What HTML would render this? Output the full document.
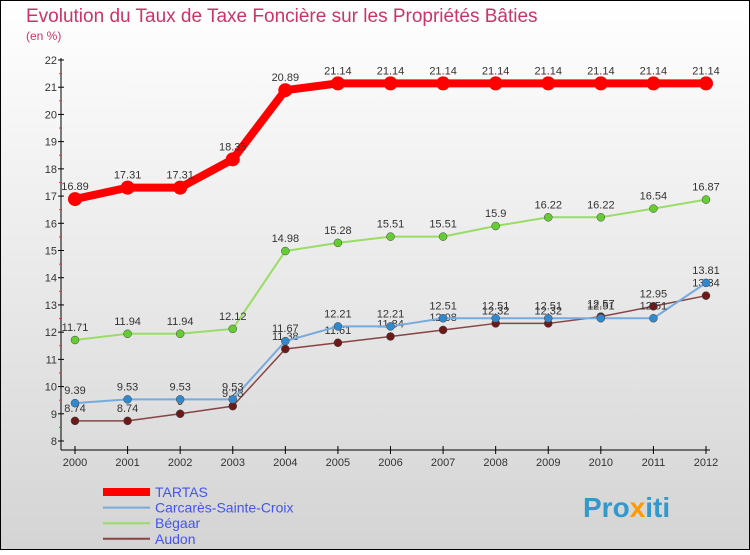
<!DOCTYPE html>
<html><head><meta charset="utf-8"><style>
body{margin:0;width:750px;height:550px;overflow:hidden;font-family:"Liberation Sans",sans-serif}
</style></head><body>
<svg id="c" width="750" height="550" xmlns="http://www.w3.org/2000/svg">
<defs><linearGradient id="bg" x1="0" y1="0" x2="0" y2="1"><stop offset="0" stop-color="#ffffff"/><stop offset="1" stop-color="#d4d4d4"/></linearGradient></defs>
<rect x="0.5" y="0.5" width="749" height="549" fill="url(#bg)" stroke="#000"/>
<text x="26" y="22" font-size="19" fill="#cc3366">Evolution du Taux de Taxe Foncière sur les Propriétés Bâties</text>
<text x="26" y="40" font-size="12" fill="#cc3366">(en %)</text>
<g id="axes"></g><g id="series"></g><g id="legend"></g>
<text x="583" y="517" font-size="28" font-weight="bold" fill="#3399cc">Pro<tspan fill="#ff9900">x</tspan>iti</text>
</svg>
<script>
const years=[2000,2001,2002,2003,2004,2005,2006,2007,2008,2009,2010,2011,2012];
const tartas=[16.89,17.31,17.31,18.35,20.89,21.14,21.14,21.14,21.14,21.14,21.14,21.14,21.14];
const carcares=[9.39,9.53,9.53,9.53,11.67,12.21,12.21,12.51,12.51,12.51,12.51,12.51,13.81];
const begaar=[11.71,11.94,11.94,12.12,14.98,15.28,15.51,15.51,15.9,16.22,16.22,16.54,16.87];
const audon=[8.74,8.74,9,9.28,11.38,11.61,11.84,12.08,12.32,12.32,12.57,12.95,13.34];
const yTicks=[8,9,10,11,12,13,14,15,16,17,18,19,20,21,22];
const names=["TARTAS","Carcarès-Sainte-Croix","Bégaar","Audon"];
const NS="http://www.w3.org/2000/svg";
const X=i=>75+i*(706-75)/(years.length-1);
const Y=v=>441-(v-8)*(441-60)/14;
function mk(t,a,p){const e=document.createElementNS(NS,t);for(const k in a)e.setAttribute(k,a[k]);p.appendChild(e);return e;}
const ax=document.getElementById('axes');
let l=mk('line',{x1:61,y1:58,x2:61,y2:450,stroke:'#000','stroke-width':1},ax);


l=mk('line',{x1:61,y1:450,x2:710,y2:450,stroke:'#000','stroke-width':1},ax);


yTicks.forEach(v=>{const y=Y(v);
mk('line',{x1:58,y1:y,x2:64,y2:y,stroke:'#000'},ax);
if(v<22)mk('line',{x1:59,y1:y-13.6,x2:62,y2:y-13.6,stroke:'#e33'},ax);
const t=mk('text',{x:57,y:y+4,'font-size':11,fill:'#333','text-anchor':'end'},ax);t.textContent=v;

});
years.forEach((yr,i)=>{const x=X(i);
mk('line',{x1:x,y1:446,x2:x,y2:454,stroke:'#000'},ax);
const t=mk('text',{x:x,y:466,'font-size':11,fill:'#333','text-anchor':'middle'},ax);t.textContent=yr;

});
const sg=document.getElementById('series');
const defs=[[begaar,'#99dd66','#66cc33',2,4],[audon,'#884444','#6b1a1a',1.5,4],[carcares,'#77aadd','#3388cc',2,4],[tartas,'#ff0000','#ff0000',8,7]];
const sn=['begaar','audon','carcares','tartas'];
defs.forEach(([d,lc,pc,w,r],k)=>{const g=mk('g',{},sg);


mk('polyline',{points:d.map((v,i)=>X(i)+','+Y(v)).join(' '),fill:'none',stroke:lc,'stroke-width':w,'stroke-linejoin':'round'},g);
d.forEach((v,i)=>{const c=mk('circle',{cx:X(i),cy:Y(v),r:r,fill:pc,stroke:k==3?'none':'#444','stroke-width':0.5},g);


const t=mk('text',{x:X(i),y:Y(v)-9,'font-size':11,fill:'#333','text-anchor':'middle'},g);t.textContent=v;

});});
const lg=document.getElementById('legend');
const lcol=['#ff0000','#77aadd','#99dd66','#884444'],lw=[8,2,2,2];
names.forEach((n,i)=>{const y=492+i*15.6;
const li=mk('line',{x1:103,y1:y,x2:150,y2:y,stroke:lcol[i],'stroke-width':lw[i]},lg);


const t=mk('text',{x:155,y:y+5,'font-size':14,fill:'#4455ee'},lg);t.textContent=n;

});
</script>
</body></html>
